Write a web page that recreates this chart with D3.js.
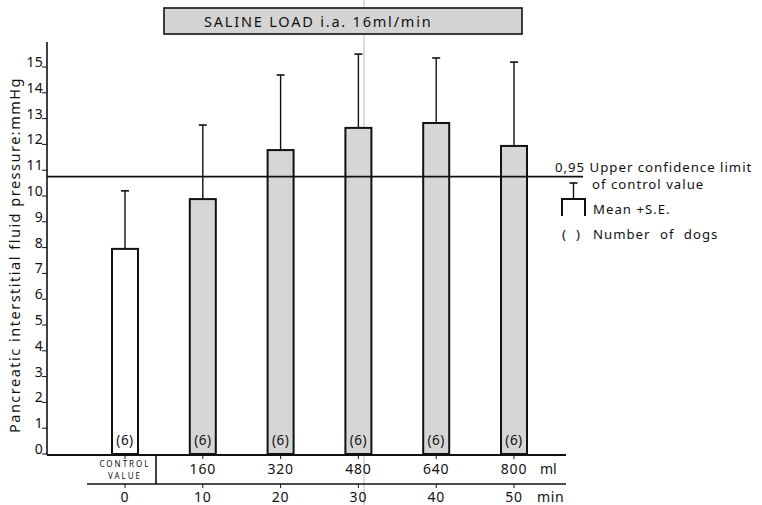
<!DOCTYPE html>
<html><head><meta charset="utf-8">
<script src="https://cdn.jsdelivr.net/npm/d3@7"></script>
<style>body{margin:0;background:#fff}svg{display:block}text{font-family:"Noto Sans",sans-serif;fill:#111}</style>
</head><body>
<svg id="c" width="762" height="505"></svg>
<script>
const categories = ["CONTROL VALUE","160","320","480","640","800"];
const minutes = ["0","10","20","30","40","50"];
const means = [7.95, 9.88, 11.78, 12.64, 12.83, 11.94];
const upperSE = [10.2, 12.75, 14.69, 15.5, 15.35, 15.19];
const nDogs = ["(6)","(6)","(6)","(6)","(6)","(6)"];
const yTicks = [0,1,2,3,4,5,6,7,8,9,10,11,12,13,14,15];
const confLimit = 10.75;

const svg = d3.select("#c");
const y = d3.scaleLinear().domain([0,15]).range([454,67]);
const x = d3.scalePoint().domain(categories).range([125,514]);
const barW = 26;
const ink = "#111";

// scan artifact line
svg.append("line").attr("x1",364).attr("x2",364).attr("y1",0).attr("y2",505)
  .attr("stroke","#bbb").attr("stroke-width",1);

// title box
svg.append("rect").attr("x",164).attr("y",8).attr("width",358).attr("height",26)
  .attr("fill","#d4d4d4").attr("stroke",ink).attr("stroke-width",1.6);
svg.append("text").attr("x",204).attr("y",27).attr("font-size",14.5).attr("letter-spacing",1.8)
  .text("SALINE LOAD i.a. 16ml/min");

// y axis
svg.append("line").attr("x1",47).attr("x2",47).attr("y1",42).attr("y2",455)
  .attr("stroke",ink).attr("stroke-width",1.6);
const yt = svg.append("g");
yTicks.forEach(t=>{
  yt.append("text").attr("x",43).attr("y",y(t)).attr("text-anchor","end")
    .attr("font-size",14).attr("letter-spacing",0.3).text(t);
  yt.append("line").attr("x1",42).attr("x2",47).attr("y1",y(t)).attr("y2",y(t))
    .attr("stroke",ink).attr("stroke-width",1);
});
svg.append("text").attr("transform","translate(20,255) rotate(-90)")
  .attr("text-anchor","middle").attr("font-size",14.5).attr("letter-spacing",1.5)
  .text("Pancreatic interstitial fluid pressure:mmHg");

// bars
categories.forEach((c,i)=>{
  const cx = x(c);
  svg.append("line").attr("x1",cx).attr("x2",cx).attr("y1",y(means[i])).attr("y2",y(upperSE[i]))
    .attr("stroke",ink).attr("stroke-width",1.4);
  svg.append("line").attr("x1",cx-4).attr("x2",cx+4).attr("y1",y(upperSE[i])).attr("y2",y(upperSE[i]))
    .attr("stroke",ink).attr("stroke-width",1.6);
  svg.append("rect").attr("x",cx-barW/2).attr("y",y(means[i])).attr("width",barW)
    .attr("height",y(0)-y(means[i])).attr("fill",i===0?"#fff":"#d6d6d6")
    .attr("stroke",ink).attr("stroke-width",2);
  svg.append("text").attr("x",cx).attr("y",445).attr("text-anchor","middle")
    .attr("font-size",13.5).attr("letter-spacing",0.5).text(nDogs[i]);
});

// confidence line
svg.append("line").attr("x1",47).attr("x2",583).attr("y1",y(confLimit)).attr("y2",y(confLimit))
  .attr("stroke",ink).attr("stroke-width",1.6);

// x axes
svg.append("line").attr("x1",47).attr("x2",566).attr("y1",455).attr("y2",455).attr("stroke",ink).attr("stroke-width",1.8);
svg.append("line").attr("x1",87).attr("x2",566).attr("y1",484).attr("y2",484).attr("stroke",ink).attr("stroke-width",1.6);
svg.append("line").attr("x1",156).attr("x2",156).attr("y1",455).attr("y2",484).attr("stroke",ink).attr("stroke-width",1.6);
categories.forEach((c,i)=>{
  const cx = x(c);
  svg.append("line").attr("x1",cx).attr("x2",cx).attr("y1",455).attr("y2",459).attr("stroke",ink);
  svg.append("line").attr("x1",cx).attr("x2",cx).attr("y1",484).attr("y2",488).attr("stroke",ink);
  if(i===0){
    const [w1,w2] = c.split(" ");
    svg.append("text").attr("x",cx).attr("y",467).attr("text-anchor","middle").attr("font-size",8).attr("letter-spacing",2).text(w1);
    svg.append("text").attr("x",cx).attr("y",478.5).attr("text-anchor","middle").attr("font-size",8).attr("letter-spacing",2).text(w2);
  } else {
    svg.append("text").attr("x",cx).attr("y",474).attr("text-anchor","middle").attr("font-size",14).attr("letter-spacing",0.8).text(c);
  }
  svg.append("text").attr("x",cx).attr("y",502).attr("text-anchor","middle").attr("font-size",14).attr("letter-spacing",0.8).text(minutes[i]);
});
svg.append("text").attr("x",540).attr("y",474).attr("font-size",14).text("ml");
svg.append("text").attr("x",537).attr("y",502).attr("font-size",14).attr("letter-spacing",0.6).text("min");

// legend
const lfs = 13.2;
svg.append("text").attr("x",555).attr("y",172).attr("font-size",lfs).attr("letter-spacing",1.0).text("0,95 Upper confidence limit");
svg.append("text").attr("x",592).attr("y",189).attr("font-size",lfs).attr("letter-spacing",1.0).text("of control value");
svg.append("path").attr("d","M562,216V199H585V216").attr("fill","none").attr("stroke",ink).attr("stroke-width",2);
svg.append("line").attr("x1",573.5).attr("x2",573.5).attr("y1",199).attr("y2",183).attr("stroke",ink).attr("stroke-width",1.4);
svg.append("line").attr("x1",569.5).attr("x2",577.5).attr("y1",183).attr("y2",183).attr("stroke",ink).attr("stroke-width",1.6);
svg.append("text").attr("x",593).attr("y",214).attr("font-size",lfs).attr("letter-spacing",1.0).text("Mean +S.E.");
svg.append("text").attr("x",562).attr("y",239).attr("font-size",lfs).text("(");
svg.append("text").attr("x",576).attr("y",239).attr("font-size",lfs).text(")");
svg.append("text").attr("x",593).attr("y",239).attr("font-size",lfs).attr("letter-spacing",1.0).attr("word-spacing",5).text("Number of dogs");
</script>
</body></html>
